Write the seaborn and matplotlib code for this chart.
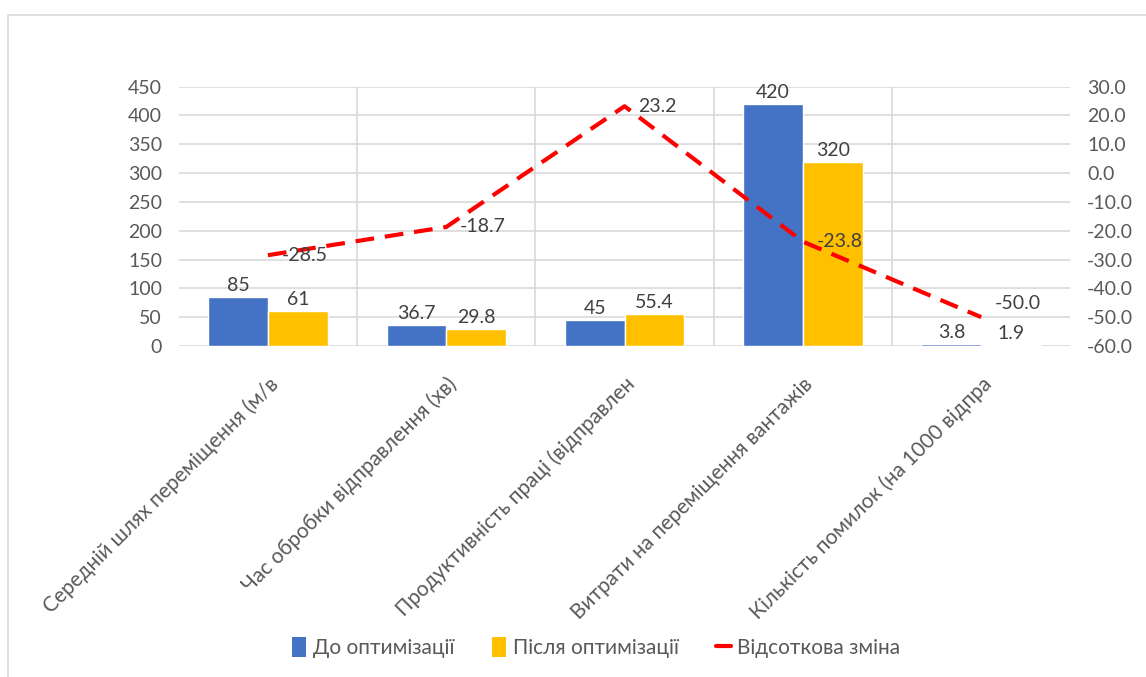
import matplotlib
matplotlib.use("Agg")
import matplotlib.pyplot as plt
import seaborn as sns
import pandas as pd
import numpy as np
from matplotlib.patches import Rectangle
from matplotlib.lines import Line2D
from matplotlib.patches import Patch

categories = [
    "Середній шлях переміщення (м/в",
    "Час обробки відправлення (хв)",
    "Продуктивність праці (відправлен",
    "Витрати на переміщення вантажів",
    "Кількість помилок (на 1000 відпра",
]
before = [85, 36.7, 45, 420, 3.8]
after = [61, 29.8, 55.4, 320, 1.9]
pct_change = [-28.5, -18.7, 23.2, -23.8, -50.0]
before_labels = ["85", "36.7", "45", "420", "3.8"]
after_labels = ["61", "29.8", "55.4", "320", "1.9"]
series_names = ["До оптимізації", "Після оптимізації", "Відсоткова зміна"]

BLUE = "#4472C4"
GOLD = "#FFC000"
RED = "#FF0000"
TXT = "#595959"
GRID = "#D9D9D9"
FS = 14
DASH = (0, (4.5, 2.6))

sns.set_theme(style="white")
plt.rcParams["font.family"] = ["Lato", "DejaVu Sans"]

df = pd.DataFrame({
    "cat": categories * 2,
    "value": before + after,
    "series": [series_names[0]] * 5 + [series_names[1]] * 5,
})

fig = plt.figure(figsize=(11.46, 6.77), dpi=100)
ax = fig.add_axes([0.156, 0.489, 0.778, 0.383])

sns.barplot(data=df, x="cat", y="value", hue="series",
            palette=[BLUE, GOLD], width=0.67, saturation=1,
            ax=ax, legend=False)

ax.set_ylim(0, 450)
ax.set_yticks(np.arange(0, 451, 50))
ax.set_xlim(-0.5, 4.5)
ax.set_xlabel("")
ax.set_ylabel("")
ax.grid(axis="y", color=GRID, linewidth=1.2)
ax.set_axisbelow(True)
for b in [0.5, 1.5, 2.5, 3.5]:
    ax.axvline(b, color=GRID, linewidth=1.2, zorder=0)
for s in ax.spines.values():
    s.set_visible(False)
ax.tick_params(axis="y", length=0, labelsize=FS, labelcolor=TXT, pad=12)
ax.tick_params(axis="x", length=0, pad=20)
ax.set_xticks(range(len(categories)))
ax.set_xticklabels(categories, rotation=45, ha="right", rotation_mode="anchor",
                   fontsize=FS + 1, color=TXT)

# bar value labels
for cont, labs in zip(ax.containers, [before_labels, after_labels]):
    ax.bar_label(cont, labels=labs, padding=2, fontsize=FS, color="#404040")

# percentage change on the secondary axis
ax2 = ax.twinx()
sns.lineplot(x=np.arange(len(categories)), y=pct_change, ax=ax2,
             color=RED, linewidth=3, linestyle=DASH, zorder=5)
ax2.set_ylim(-60, 30)
ax2.set_yticks(np.arange(-60, 31, 10))
ax2.set_yticklabels([f"{v:.1f}" for v in np.arange(-60, 31, 10)])
ax2.tick_params(axis="y", length=0, labelsize=FS, labelcolor=TXT, pad=12)
for s in ax2.spines.values():
    s.set_visible(False)
ax2.grid(False)

for i, v in enumerate(pct_change):
    dy = 10 if i == len(pct_change) - 1 else 0
    ax2.annotate(f"{v:.1f}", (i, v), xytext=(10, dy), textcoords="offset points",
                 ha="left", va="center", fontsize=FS, color="#404040", zorder=6)

handles = [
    Patch(facecolor=BLUE, edgecolor="none"),
    Patch(facecolor=GOLD, edgecolor="none"),
    Line2D([0], [0], color=RED, linewidth=3),
]
fig.legend(handles, series_names, loc="center", bbox_to_anchor=(0.52, 0.043),
           ncol=3, frameon=False, fontsize=FS + 1, handlelength=0.7,
           handleheight=1.1, handletextpad=0.3, columnspacing=1.8,
           labelcolor=TXT)

# light frame around the chart area
fig.patches.append(Rectangle((0.007, -0.01), 1.2, 0.988, transform=fig.transFigure,
                             fill=False, edgecolor="#D9D9D9", linewidth=1.2))

fig.savefig("out.png", dpi=100, facecolor="white")
